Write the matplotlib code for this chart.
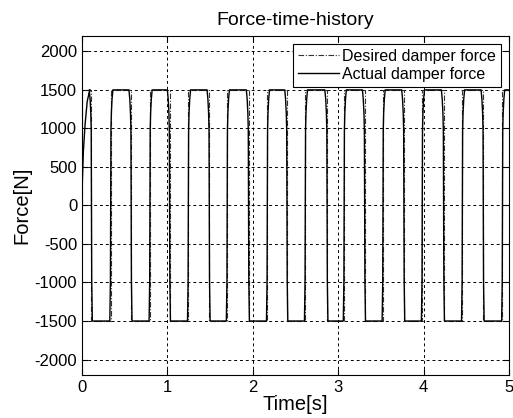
import numpy as np
import matplotlib
matplotlib.use("Agg")
import matplotlib.pyplot as plt

plt.rcParams['font.family'] = ['Liberation Sans', 'DejaVu Sans']
plt.rcParams['axes.unicode_minus'] = False

# switching instants of the damper force [s]
rise_times = [0.335, 0.795, 1.245, 1.700, 2.170, 2.615, 3.070, 3.525, 3.985, 4.455, 4.925]
fall_times = [0.110, 0.575, 1.025, 1.490, 1.950, 2.400, 2.870, 3.310, 3.770, 4.235, 4.700]
force_level = 1500.0

# start-up ramp of the actual force
start_t = [0.0, 0.015, 0.035, 0.060, 0.080, 0.095]
start_f = [200.0, 700.0, 1050.0, 1350.0, 1450.0, 1500.0]

# shape of one rising edge of the actual force (time offset, fraction of level)
edge_dt = [-0.010, -0.006, -0.003, 0.0, 0.003, 0.008, 0.016, 0.026]
edge_frac = [-1.0, -0.82, -0.65, 0.0, 0.65, 0.80, 0.92, 1.0]

t_end = 5.0


def build_actual():
    t = list(start_t)
    f = list(start_f)
    events = sorted([(tr, 1) for tr in rise_times] + [(tf, -1) for tf in fall_times])
    for t0, s in events:
        pts = zip(edge_dt, edge_frac) if s > 0 else zip([-d for d in reversed(edge_dt)],
                                                         [-x for x in reversed(edge_frac)])
        for dt, fr in pts:
            t.append(t0 + dt)
            f.append(-fr * force_level if s < 0 else fr * force_level)
    t.append(t_end)
    f.append(f[-1])
    return np.array(t), np.array(f)


def build_desired():
    t = [0.0, 0.0]
    f = [0.0, force_level]
    events = sorted([(tr, 1) for tr in rise_times] + [(tf, -1) for tf in fall_times])
    for t0, s in events:
        t += [t0, t0]
        f += [-s * force_level, s * force_level]
    t.append(t_end)
    f.append(f[-1])
    return np.array(t), np.array(f)


t_act, f_act = build_actual()
t_des, f_des = build_desired()

fig = plt.figure(figsize=(5.13, 4.18), dpi=100)
ax = fig.add_axes([0.160, 0.103, 0.832, 0.811])

ax.plot(t_des, f_des, color='#333333', lw=0.8, ls=(0, (5, 1.5, 1, 1.5)),
        label='Desired damper force')
ax.plot(t_act, f_act, color='black', lw=1.0, label='Actual damper force')

ax.set_xlim(0, 5)
ax.set_ylim(-2200, 2200)
ax.set_xticks(np.arange(0, 6, 1))
ax.set_yticks(np.arange(-2000, 2001, 500))
ax.tick_params(direction='in', top=True, right=True, labelsize=12, length=4)
ax.grid(True, color='black', ls=(0, (3, 3)), lw=0.7)

ax.set_title('Force-time-history', fontsize=14, pad=8)
ax.set_xlabel('Time[s]', fontsize=14.5, labelpad=0)
ax.set_ylabel('Force[N]', fontsize=14.5, labelpad=2)

leg = ax.legend(loc='upper right', fontsize=11.5, fancybox=False, framealpha=1,
                edgecolor='black', handlelength=2.6, borderpad=0.3,
                labelspacing=0.2, handletextpad=0.2, borderaxespad=0.5)
leg.get_frame().set_linewidth(0.8)

fig.savefig('out.png', dpi=100)
